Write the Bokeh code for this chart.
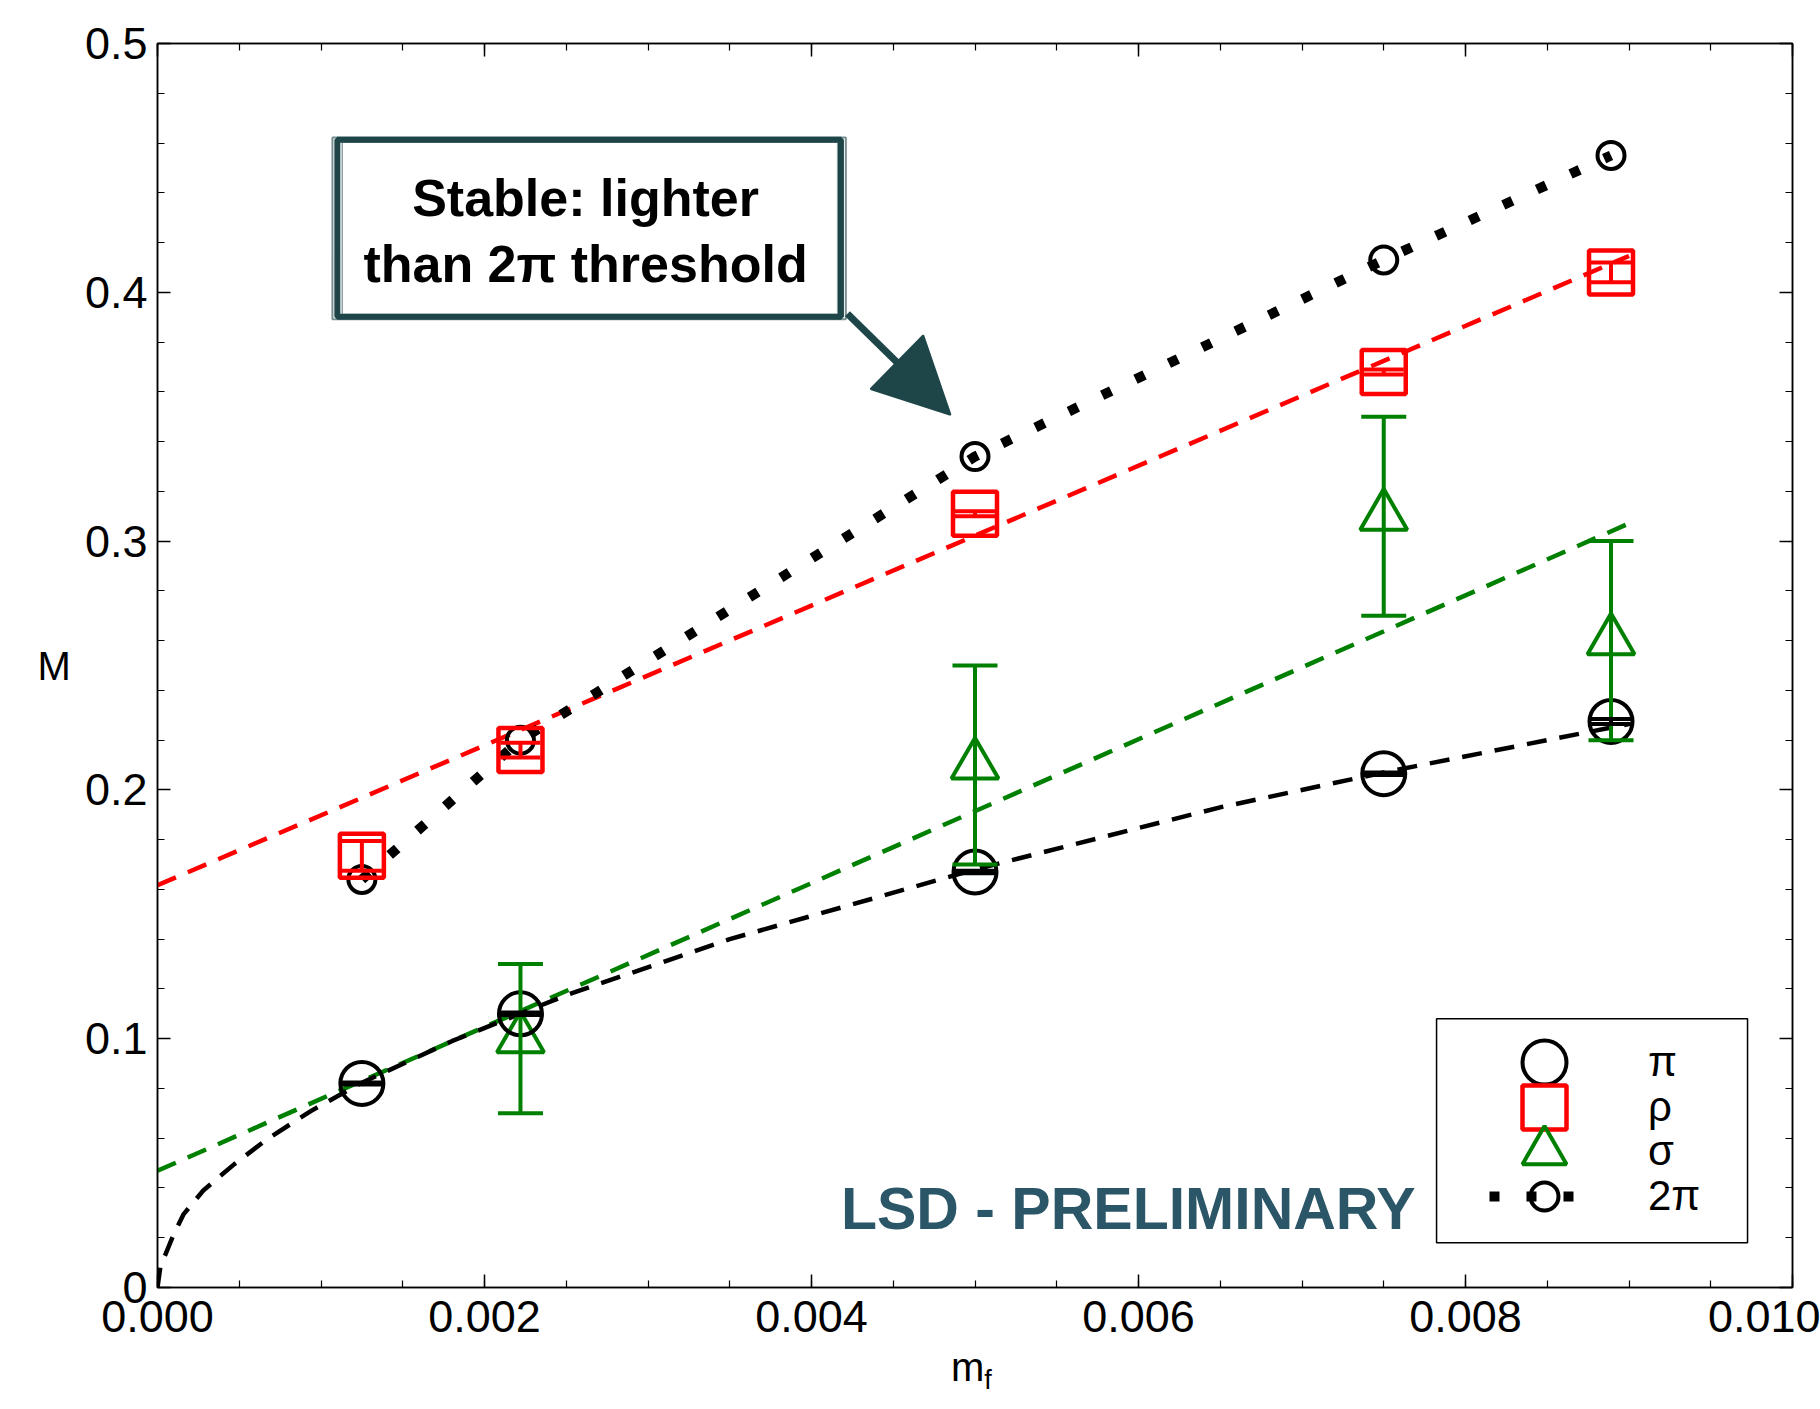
from bokeh.plotting import figure
from bokeh.layouts import column
from bokeh.models import (Range1d, FixedTicker, NumeralTickFormatter, LinearAxis, Whisker, TeeHead,
                          ColumnDataSource, Legend, LegendItem, BoxAnnotation, Label, Arrow, NormalHead,
                          CustomLabelingPolicy, Div)
from bokeh.embed import file_html
from bokeh.resources import INLINE

# ---------------- data ----------------
m_f = [0.00125, 0.00222, 0.005, 0.0075, 0.00889]

m_pi = [0.082, 0.110, 0.167, 0.2065, 0.2275]
m_pi_err = [0.0004, 0.0005, 0.0005, 0.0005, 0.001]

m_rho = [0.1735, 0.216, 0.311, 0.368, 0.408]
m_rho_err = [0.006, 0.003, 0.001, 0.001, 0.004]

sigma_mf = [0.00222, 0.005, 0.0075, 0.00889]
m_sigma = [0.10, 0.21, 0.31, 0.26]
m_sigma_err = [0.03, 0.04, 0.04, 0.04]

m_2pi = [0.164, 0.220, 0.334, 0.413, 0.455]

# fit curves
pi_fit_x = [0.0, 0.00002, 0.00005, 0.0001, 0.00016, 0.00028, 0.00047, 0.00067, 0.00094,
            0.00124, 0.0018, 0.0025, 0.0035, 0.005, 0.0065, 0.0075, 0.0090]
pi_fit_y = [0.0, 0.0095, 0.0135, 0.0215, 0.0295, 0.039, 0.0496, 0.0596, 0.071,
            0.082, 0.099, 0.1175, 0.140, 0.168, 0.193, 0.207, 0.2265]
rho_fit_x = [0.0, 0.009]
rho_fit_y = [0.1617, 0.4146]
sigma_fit_x = [0.0, 0.009]
sigma_fit_y = [0.0469, 0.3071]

x_ticks = [0.0, 0.002, 0.004, 0.006, 0.008, 0.010]
x_minor = [i * 0.0005 for i in range(21)]
y_ticks = [0.0, 0.1, 0.2, 0.3, 0.4, 0.5]
y_tick_labels = {0.0: "0", 0.1: "0.1", 0.2: "0.2", 0.3: "0.3", 0.4: "0.4", 0.5: "0.5"}
y_minor = [i * 0.02 for i in range(26)]

legend_labels = ["π", "ρ", "σ", "2π"]
x_title, x_title_sub = "m", "f"
y_title = "M"

FONT = "Liberation Sans"
TEAL = "#1e4649"
TEAL_TXT = "#2a5667"
GREEN = "#008000"
RED = "#ff0000"

FIG_H = 1356
p = figure(width=1820, height=FIG_H, x_range=Range1d(0, 0.010), y_range=Range1d(0, 0.5),
           output_backend="svg", toolbar_location=None,
           min_border_left=157, min_border_right=28, min_border_top=43, min_border_bottom=FIG_H - 1287,
           y_axis_label=y_title)
p.grid.visible = False
p.outline_line_color = "black"
p.outline_line_width = 1.5
p.background_fill_color = "white"
p.border_fill_color = "white"


def style_axis(ax, ticks, minor):
    ax.ticker = FixedTicker(ticks=ticks, minor_ticks=minor)
    ax.major_tick_in = 13
    ax.major_tick_out = 0
    ax.minor_tick_in = 7
    ax.minor_tick_out = 0
    ax.major_tick_line_color = "black"
    ax.minor_tick_line_color = "black"
    ax.major_tick_line_width = 1.5
    ax.minor_tick_line_width = 1.2
    ax.axis_line_color = "black"
    ax.axis_line_width = 1.5
    ax.major_label_text_font = FONT
    ax.major_label_text_font_size = "45px"
    ax.major_label_text_color = "black"
    ax.axis_label_text_font = FONT
    ax.axis_label_text_font_size = "40px"
    ax.axis_label_text_font_style = "normal"
    ax.axis_label_text_color = "black"


xa = p.xaxis[0]
style_axis(xa, x_ticks, x_minor)
xa.formatter = NumeralTickFormatter(format="0.000")
xa.major_label_standoff = 13

ya = p.yaxis[0]
style_axis(ya, y_ticks, y_minor)
ya.major_label_overrides = y_tick_labels
ya.major_label_standoff = 10
ya.axis_label_orientation = "horizontal"
ya.axis_label_standoff = 11

no_labels = "for (const i of indices) { indices.unset(i) }; return indices"

top_ax = LinearAxis()
style_axis(top_ax, x_ticks, x_minor)
top_ax.major_label_text_font_size = "10px"
top_ax.major_label_standoff = 0
top_ax.major_label_policy = CustomLabelingPolicy(code=no_labels)
p.add_layout(top_ax, "above")

right_ax = LinearAxis()
style_axis(right_ax, y_ticks, y_minor)
right_ax.major_label_text_font_size = "10px"
right_ax.major_label_standoff = 0
right_ax.major_label_policy = CustomLabelingPolicy(code=no_labels)
p.add_layout(right_ax, "right")

# ---------------- fit lines ----------------
p.line(rho_fit_x, rho_fit_y, line_color=RED, line_width=4.5, line_dash="20 13")
p.line(sigma_fit_x, sigma_fit_y, line_color=GREEN, line_width=4.5, line_dash="20 13")
p.line(pi_fit_x, pi_fit_y, line_color="black", line_width=4.5, line_dash="20 13")

# 2pi threshold dotted line
r_2pi_line = p.line(m_f, m_2pi, line_color="black", line_width=10, line_dash="10 27")

# ---------------- error bars ----------------
def add_errors(xs, ys, errs, color, cap):
    src = ColumnDataSource(dict(x=xs, upper=[v + e for v, e in zip(ys, errs)],
                                lower=[v - e for v, e in zip(ys, errs)]))
    w = Whisker(source=src, base="x", upper="upper", lower="lower", dimension="height",
                line_color=color, line_width=4, level="glyph",
                upper_head=TeeHead(size=cap, line_color=color, line_width=4),
                lower_head=TeeHead(size=cap, line_color=color, line_width=4))
    p.add_layout(w)


add_errors(sigma_mf, m_sigma, m_sigma_err, GREEN, 45)
add_errors(m_f, m_rho, m_rho_err, RED, 40)
add_errors(m_f, m_pi, m_pi_err, "black", 42)

# ---------------- markers ----------------
r_sig = p.scatter(sigma_mf, m_sigma, marker="triangle", size=47, fill_color=None,
                  line_color=GREEN, line_width=4)
r_2pi_pts = p.scatter(m_f, m_2pi, marker="circle", size=27, fill_color=None,
                      line_color="black", line_width=4)
r_rho = p.scatter(m_f, m_rho, marker="square", size=44, fill_color=None,
                  line_color=RED, line_width=4.5)
r_pi = p.scatter(m_f, m_pi, marker="circle", size=43, fill_color=None,
                 line_color="black", line_width=4)

# ---------------- legend ----------------
p.add_layout(BoxAnnotation(left=0.007823, right=0.009725, bottom=0.018, top=0.108,
                           fill_color="white", fill_alpha=1.0, line_color="black",
                           line_alpha=1.0, line_width=1.5))

# one single-entry legend per row, so the large glyphs may overlap as in the reference
legend_rows = [
    (legend_labels[0], [r_pi], 110, 110, (1332, 170)),
    (legend_labels[1], [r_rho], 110, 110, (1332, 125)),
    (legend_labels[2], [r_sig], 110, 120, (1332, 76)),
    (legend_labels[3], [r_2pi_line, r_2pi_pts], 110, 70, (1332, 56)),
]
for label, rends, gw, gh, loc in legend_rows:
    lg = Legend(items=[LegendItem(label=label, renderers=rends)], location=loc,
                glyph_width=gw, glyph_height=gh, spacing=0, padding=0,
                label_standoff=49, label_text_font=FONT, label_text_font_size="42px",
                label_text_color="black",
                border_line_color=None, background_fill_alpha=0, margin=0)
    p.add_layout(lg, "center")

# ---------------- callout ----------------
p.add_layout(BoxAnnotation(left=0.0011, right=0.00418, top=0.4613, bottom=0.3902,
                           fill_alpha=0, line_color=TEAL, line_alpha=1.0, line_width=6))
p.add_layout(BoxAnnotation(left=0.00107, right=0.00421, top=0.4622, bottom=0.3892,
                           fill_alpha=0, line_color=TEAL, line_width=2, line_alpha=0.6))
p.add_layout(BoxAnnotation(left=0.00113, right=0.00416, top=0.4603, bottom=0.3911,
                           fill_alpha=0, line_color=TEAL, line_width=1.5, line_alpha=0.5))
p.add_layout(Arrow(x_start=0.00422, y_start=0.3914, x_end=0.00485, y_end=0.3508,
                   line_color=TEAL, line_width=7,
                   end=NormalHead(size=75, fill_color=TEAL, line_color=TEAL, line_width=2)))
p.add_layout(Label(x=0.002618, y=0.438, text="Stable: lighter", text_align="center",
                   text_baseline="alphabetic", text_font=FONT, text_font_style="bold",
                   text_font_size="52px", text_color="black"))
p.add_layout(Label(x=0.002618, y=0.4114, text="than 2π threshold", text_align="center",
                   text_baseline="alphabetic", text_font=FONT, text_font_style="bold",
                   text_font_size="52px", text_color="black"))

p.add_layout(Label(x=0.00418, y=0.0316, text="LSD - PRELIMINARY", text_align="left",
                   text_baseline="alphabetic", text_font=FONT, text_font_style="bold",
                   text_font_size="59px", text_color=TEAL_TXT))

# x-axis title with its subscript, as real text under the figure
x_title_div = Div(
    text=('<div style="position:relative; left:951px; top:1px; white-space:nowrap; '
          'font-family:\'Liberation Sans\'; font-size:40px; line-height:20px; color:black;">'
          + x_title +
          '<span style="position:relative; top:8px; font-size:27px;">' + x_title_sub + '</span></div>'),
    width=1820, height=1409 - FIG_H, margin=0,
    styles={"overflow": "visible", "background-color": "white"})

layout = column(p, x_title_div, spacing=0)

html = file_html(layout, INLINE)
html = html.replace("<body>", '<body style="margin:0;">')
open("out.html", "w").write(html)
